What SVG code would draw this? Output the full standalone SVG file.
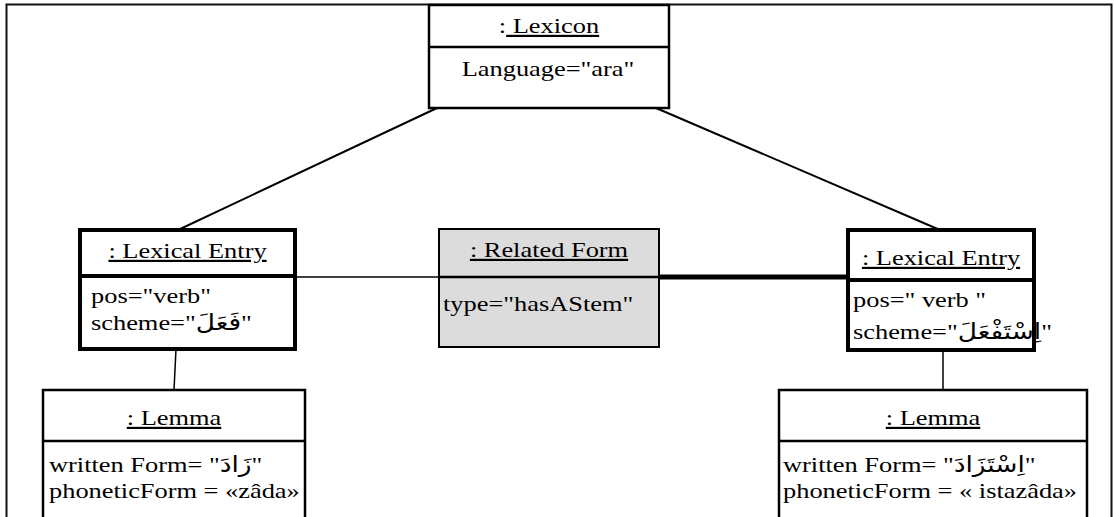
<svg xmlns="http://www.w3.org/2000/svg" width="1114" height="517" viewBox="0 0 1114 517">
  <style>
    .t { font-family: "Liberation Serif", "DejaVu Sans", serif; font-size: 22px; fill: #000; }
    .c { text-anchor: middle; }
    .u { text-decoration: underline; }
    .box { fill: #fff; stroke: #000; stroke-width: 2.5; }
    .bold { stroke-width: 4; }
    .shade { fill: #dcdcdc; stroke-width: 2; }
    .div { stroke: #000; stroke-width: 2.5; }
    .div.bold { stroke-width: 4; }
    .link { stroke: #000; fill: none; }
  </style>

  <!-- outer frame, open at the bottom -->
  <path d="M6.5,520 V4.5 H1111.5 V520" fill="none" stroke="#111" stroke-width="2"/>

  <g id="connectors">
    <line class="link" x1="437" y1="108" x2="178" y2="230" stroke-width="2"/>
    <line class="link" x1="656" y1="108" x2="940" y2="230" stroke-width="2"/>
    <line class="link" x1="295" y1="277" x2="439" y2="277" stroke-width="1.5"/>
    <line class="link" x1="657" y1="277" x2="848" y2="277" stroke-width="5"/>
    <line class="link" x1="176" y1="349" x2="174" y2="390" stroke-width="1.5"/>
    <line class="link" x1="943" y1="350" x2="943" y2="390" stroke-width="1.5"/>
  </g>

  <g id="lexicon">
    <rect class="box" x="429" y="5" width="240" height="103"/>
    <line class="div" x1="429" y1="47" x2="669" y2="47"/>
    <text class="t c" transform="translate(549 33) scale(1.2 1)">:<tspan class="u"> Lexicon</tspan></text>
    <text class="t c" transform="translate(548 76) scale(1.2 1)">Language="ara"</text>
  </g>

  <g id="entry-left">
    <rect class="box bold" x="80" y="230" width="215" height="119"/>
    <line class="div bold" x1="80" y1="276" x2="295" y2="276"/>
    <text class="t c u" transform="translate(187.5 258) scale(1.2 1)">: Lexical Entry</text>
    <text class="t" transform="translate(91 303) scale(1.2 1)">pos="verb"</text>
    <text class="t" transform="translate(91 330) scale(1.2 1)">scheme="فَعَلَ"</text>
  </g>

  <g id="related-form">
    <rect class="box shade" x="439" y="229" width="220" height="118"/>
    <line class="div" x1="439" y1="277" x2="659" y2="277" stroke-width="2"/>
    <text class="t c u" transform="translate(549 257) scale(1.2 1)">: Related Form</text>
    <text class="t" transform="translate(443 311) scale(1.2 1)">type="hasAStem"</text>
  </g>

  <g id="entry-right">
    <rect class="box bold" x="848" y="230" width="186" height="120"/>
    <line class="div bold" x1="848" y1="280" x2="1034" y2="280"/>
    <text class="t c u" transform="translate(941 265) scale(1.2 1)">: Lexical Entry</text>
    <text class="t" transform="translate(853 307) scale(1.2 1)">pos=" verb "</text>
    <text class="t" transform="translate(853 339) scale(1.2 1)">scheme="اِسْتَفْعَلَ"</text>
  </g>

  <g id="lemma-left">
    <rect class="box" x="43" y="390" width="262" height="140" stroke-width="2"/>
    <line class="div" x1="43" y1="441" x2="305" y2="441" stroke-width="2"/>
    <text class="t c u" transform="translate(174 425) scale(1.2 1)">: Lemma</text>
    <text class="t" transform="translate(49 472) scale(1.2 1)">written Form= "زَادَ"</text>
    <text class="t" transform="translate(49 498) scale(1.2 1)">phoneticForm = «zâda»</text>
  </g>

  <g id="lemma-right">
    <rect class="box" x="779" y="390" width="308" height="140" stroke-width="2"/>
    <line class="div" x1="779" y1="441" x2="1087" y2="441" stroke-width="2"/>
    <text class="t c u" transform="translate(933 425) scale(1.2 1)">: Lemma</text>
    <text class="t" transform="translate(783 472) scale(1.2 1)">written Form= "اِسْتَزَادَ"</text>
    <text class="t" transform="translate(783 498) scale(1.2 1)">phoneticForm = « istazâda»</text>
  </g>
</svg>
